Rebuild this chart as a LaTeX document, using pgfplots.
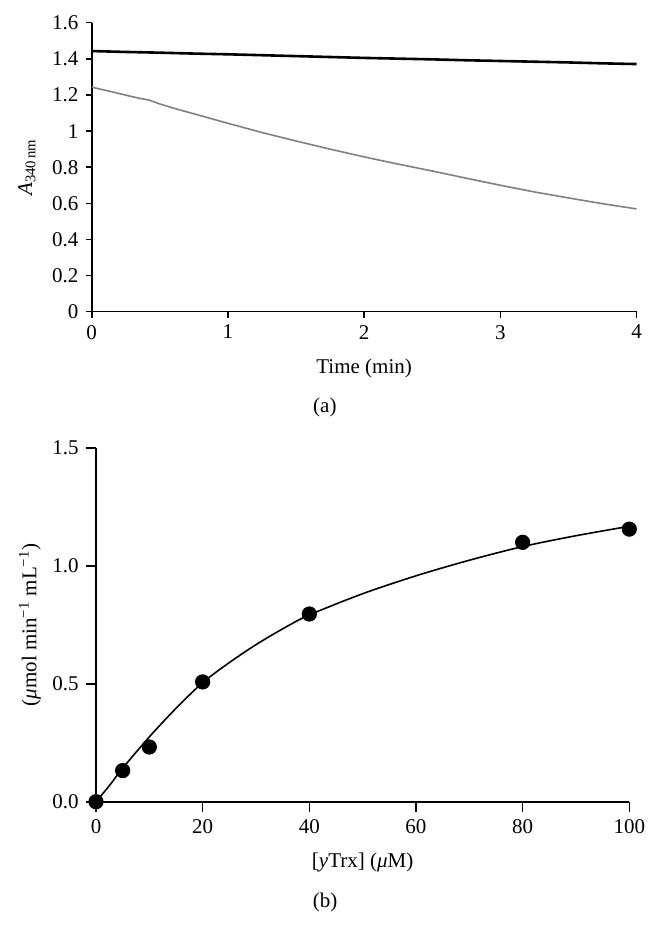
\documentclass[border=0pt]{standalone}
\usepackage{fontspec}
\setmainfont{Liberation Serif}
\usepackage{pgfplots}
\pgfplotsset{compat=1.18}
\begin{document}
\fontsize{10.5pt}{12pt}\selectfont
\begin{tikzpicture}
\useasboundingbox (0,0) rectangle (328.5pt,-472.5pt);
% Panel (a)
\begin{axis}[
  at={(45.85pt,-155.85pt)}, anchor=south west,
  scale only axis, width=272.4pt, height=144.5pt,
  xmin=0, xmax=4, ymin=0, ymax=1.6,
  xtick={0,1,2,3,4}, ytick={0,0.2,...,1.6},
  axis x line*=bottom, axis y line*=left,
  axis line style={line width=0.8pt, -},
  tick style={line width=0.8pt, black},
  tick align=outside, major tick length=3pt,
  /pgf/number format/assume math mode=true,
  ticklabel style={font=\fontsize{10.5pt}{12pt}\selectfont},
  yticklabel style={/pgf/number format/fixed},
  xlabel={Time (min)},
  xlabel style={at={(axis description cs:0.5,-0.198)}, anchor=center},
  ylabel={\textit{A}\textsubscript{340\,nm}},
  ylabel style={at={(axis description cs:-0.119,0.5)}, anchor=center},
  clip=false,
]
\addplot[black, line width=1.3pt] coordinates {
(0,1.443) (0.25,1.438) (0.5,1.434) (0.75,1.429) (1,1.425) (1.25,1.420) (1.5,1.415)
(1.75,1.410) (2,1.405) (2.25,1.401) (2.5,1.397) (2.75,1.392) (3,1.388)
(3.25,1.384) (3.5,1.380) (3.75,1.375) (4,1.371)};
\addplot[gray, line width=0.8pt] coordinates {
(0,1.243) (0.1,1.226) (0.2,1.208) (0.3,1.190) (0.36,1.180) (0.42,1.172)
(0.5,1.150) (0.6,1.127) (0.8,1.085) (1.0,1.043) (1.25,0.992) (1.5,0.945)
(1.75,0.900) (2.0,0.857) (2.25,0.817) (2.5,0.779) (2.75,0.739) (3.0,0.700)
(3.25,0.663) (3.5,0.630) (3.75,0.598) (4.0,0.569)};
\node[anchor=center] at (axis description cs:0.428,-0.333) {(a)};
\end{axis}
% Panel (b)
\begin{axis}[
  at={(48pt,-400.85pt)}, anchor=south west,
  scale only axis, width=266.65pt, height=176.85pt,
  xmin=0, xmax=100, ymin=0, ymax=1.5,
  xtick={0,20,40,60,80,100}, ytick={0,0.5,1.0,1.5},
  axis x line*=bottom, axis y line*=left,
  axis line style={line width=0.8pt, -},
  tick style={line width=0.8pt, black},
  tick align=outside, major tick length=5pt,
  /pgf/number format/assume math mode=true,
  ticklabel style={font=\fontsize{10.5pt}{12pt}\selectfont},
  yticklabel style={/pgf/number format/fixed, /pgf/number format/fixed zerofill, /pgf/number format/precision=1},
  xlabel={[\textit{y}Trx] (\textit{μ}M)},
  xlabel style={at={(axis description cs:0.5,-0.1705)}, anchor=center},
  ylabel={(\textit{μ}mol min\textsuperscript{−1} mL\textsuperscript{−1})},
  ylabel style={at={(axis description cs:-0.124,0.5)}, anchor=center},
  clip=false,
]
\addplot[black, line width=0.8pt, smooth] coordinates {
(0,0) (2.5,0.068) (5,0.142) (10,0.275) (15,0.396) (20,0.505) (25,0.590)
(30,0.666) (35,0.733) (40,0.792) (50,0.882) (60,0.958) (70,1.024) (80,1.082) (90,1.128) (100,1.168)};
\addplot[only marks, mark=*, mark size=3.6pt, black] coordinates {
(0,0) (5,0.132) (10,0.232) (20,0.508) (40,0.796) (80,1.100) (100,1.156)};
\node[anchor=center] at (axis description cs:0.4294,-0.2836) {(b)};
\end{axis}
\end{tikzpicture}
\end{document}
